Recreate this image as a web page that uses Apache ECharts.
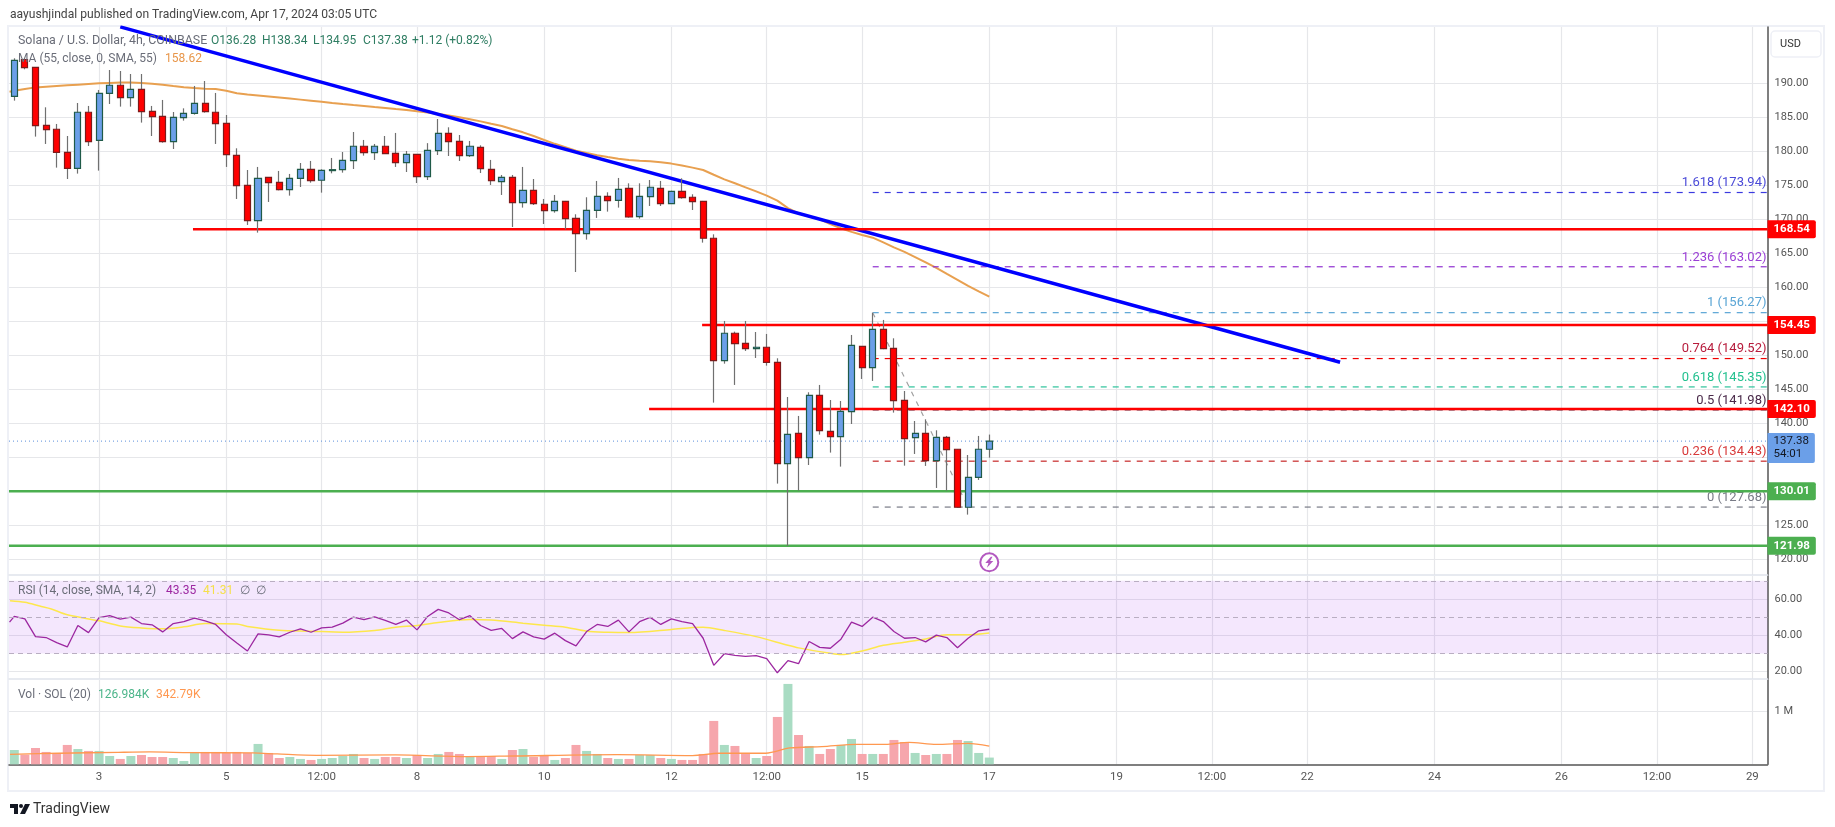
<!DOCTYPE html>
<html><head><meta charset="utf-8">
<style>html,body{margin:0;padding:0;background:#fff}#c{width:1835px;height:827px}</style>
<script src="https://cdn.jsdelivr.net/npm/echarts@6/dist/echarts.min.js"></script>
</head><body><div id="c"></div>
<script>
const FONT = 'Roboto, "Noto Sans", sans-serif';
const opens = [188.09,193.5,192.35,183.82,183.24,179.85,177.5,185.74,181.62,188.53,189.71,187.89,189.12,185.88,185.15,181.42,184.95,185.59,187.06,185.74,184.12,179.41,175,169.8,176.18,175.44,174.36,176.03,177.35,175.74,177.16,177.3,178.63,180.74,179.8,180.74,179.7,178.33,179.56,176.27,180.1,182.65,181.47,179.36,180.59,177.35,175.54,176.18,172.45,174.26,172.21,171.27,172.65,170.15,167.89,171.32,173.38,172.79,174.56,170.39,173.33,174.56,172.3,174.12,173.24,172.65,167.21,149.22,153.24,151.76,150.98,151.18,148.97,134.07,138.53,134.95,144.12,138.82,138.04,141.72,151.32,148.19,153.82,151.03,143.38,137.89,138.53,134.51,137.94,136.18,127.65,132.06,136.18];
const closes = [193.38,192.3,183.77,183.19,179.85,177.5,185.74,181.42,188.53,189.71,187.89,189.12,185.83,185.1,181.42,185,185.59,187.06,185.83,184.07,179.51,174.95,169.8,176.03,175.39,174.36,176.03,177.35,175.69,177.2,177.3,178.68,180.74,179.8,180.74,179.66,178.33,179.56,176.27,180.15,182.65,181.42,179.36,180.74,177.45,175.69,176.18,172.45,174.26,172.3,171.27,172.65,170.1,167.89,171.32,173.38,172.75,174.41,170.34,173.38,174.71,172.3,174.12,173.19,172.6,167.21,149.22,153.24,151.72,150.98,151.18,148.97,134.07,138.38,134.95,144.12,138.92,138.04,141.76,151.47,148.19,153.82,150.98,143.33,137.75,138.53,134.51,137.94,136.13,127.65,132.06,136.18,137.38];
const lows = [187.45,192.06,182.16,181.08,177.6,175.93,176.72,180.78,177.16,186.96,186.57,186.57,184.22,182.25,181.27,180.34,184.51,185.39,185.69,181.08,177.7,172.99,169.17,168.04,172.55,174.26,173.48,174.75,175.39,173.92,176.76,176.86,177.4,179.36,178.73,179.6,177.7,176.96,175.34,175.78,179.46,179.31,178.58,179.17,176.81,175.05,173.58,168.87,171.72,172.11,169.31,170.98,168.53,162.25,167.01,170.2,171.13,171.72,170.25,170.1,171.96,171.96,172.25,173.04,171.37,166.57,143.04,148.77,145.64,150.64,149.61,148.48,131.13,121.96,130.1,133.87,138.33,135.69,133.63,139.9,146.52,146.23,150.9,141.57,133.77,135.49,133.73,130.49,130.1,127.65,126.57,131.67,134.95];
const highs = [193.68,193.7,192.35,186.47,184.02,182.25,187.1,186.67,189.02,191.96,191.81,191.37,191.37,186.67,187.55,185.78,186.32,189.61,190.34,188.58,185.34,180.44,177.25,177.7,176.18,177.11,176.67,178.28,178.58,177.35,179.02,179.9,182.84,181.67,181.08,182.25,182.7,180.05,179.6,181.2,184.75,183.53,182.4,181.52,180.88,178.73,176.52,176.52,177.7,175.93,172.99,173.58,172.7,170.74,173.24,175.64,173.97,176.08,175.29,175.29,175.78,175.64,174.2,176.03,173.68,172.7,167.79,155.05,153.48,155.05,153.43,153.14,149.56,143.87,141.08,144.56,145.64,143.43,143.28,152.99,151.34,156.27,155.2,152.5,144.75,140.34,140.59,138.97,138.14,136.18,135.34,138.14,138.34];
const maValues = [188.9,189.15,189.4,189.5,189.6,189.7,189.8,189.9,190,190.05,190.1,190.12,190.05,189.95,189.8,189.6,189.42,189.3,189.2,189.15,188.9,188.55,188.35,188.2,188.05,187.9,187.75,187.6,187.45,187.3,187.11,186.95,186.8,186.67,186.5,186.38,186.22,186.08,185.9,185.7,185.49,185.25,185,184.71,184.4,184.05,183.73,183.25,182.79,182.25,181.67,181.1,180.6,180.1,179.75,179.41,179.15,178.9,178.73,178.6,178.53,178.4,178.19,177.9,177.6,177.25,176.55,175.88,175.3,174.7,174.1,173.48,172.75,171.65,170.88,170.4,170,169.3,168.68,168.15,167.7,167.3,166.6,165.88,165.2,164.45,163.65,162.85,161.96,161.1,160.2,159.4,158.62];
const maBefore = [-0.45,188.77];
const rsiValues = [50.4,49.1,39.3,38.8,36,33.6,45.4,41.5,49.7,50.8,48.9,50,46.5,45.8,41.9,46.5,47.5,49.5,48,46,40.3,35.8,31.4,40.8,40.3,39.2,41.7,43.6,41.7,44.1,44.5,46.7,50,48.6,50.2,48.2,46,48.4,43,50.4,54.3,52.3,48.6,50.8,45.4,42.7,43.8,38.2,41.9,39.2,37.9,41.2,37.1,34.2,42.1,46,44.9,48.4,41.9,47.5,49.9,46,49.1,47.6,46.5,38.4,23.5,29.9,29,28.4,28.8,27.2,19.4,26.1,24.4,36.6,33.4,32.9,37.9,47.3,44.9,50,47.6,42.1,38.4,38.8,36.4,40.1,38.8,33.2,38.4,42.5,43.35];
const rsiBefore = [-0.45,47.3];
const rsiSmaPoints = [[-0.4,59.1],[1,58.2],[2.4,56.1],[3.5,54.5],[5,51.3],[8,48],[10,45.2],[12,44.1],[14,43.6],[16,44.7],[18,46.5],[21,46.2],[22,44.9],[25,42.8],[28,42.3],[31,41.7],[34,42.7],[36,44.5],[38,45.4],[40,47.1],[43,48.7],[45,48.4],[48,46.7],[50,45.6],[52,44.5],[54,42.3],[56,41.7],[58,41.5],[62,43.2],[64,44.3],[65,44.5],[67,42.7],[70,39.3],[73,34.5],[74,33.1],[77,30.1],[78,29.4],[80,31.4],[82,34.5],[84,36.2],[86,38],[88,40.3],[90,40.3],[92,41.31]];
const volumes = [.27,.182,.308,.233,.214,.365,.289,.252,.252,.157,.101,.157,.176,.138,.138,.119,.063,.233,.233,.233,.214,.233,.214,.384,.214,.119,.138,.101,.082,.101,.119,.157,.195,.119,.101,.138,.138,.119,.176,.119,.195,.233,.195,.138,.157,.157,.101,.27,.289,.138,.176,.082,.119,.365,.252,.195,.119,.101,.101,.176,.176,.119,.101,.082,.082,.195,.818,.365,.346,.214,.119,.157,.893,1.516,.553,.346,.195,.289,.365,.478,.195,.195,.195,.459,.421,.214,.176,.195,.195,.459,.44,.214,.127];
const volMaPoints = [[-0.4,.189],[4.2,.208],[9.8,.226],[12.8,.233],[16.6,.22],[22.5,.214],[24.8,.195],[28.5,.17],[36,.176],[42.7,.145],[47.2,.157],[56.9,.182],[64,.164],[66.5,.208],[70.9,.208],[73.2,.308],[76.2,.333],[79.5,.377],[82.2,.377],[84.4,.415],[87,.377],[90,.396],[92,.343]];
const timeTicks = [[8,'3'],[20,'5'],[29,'12:00'],[38,'8'],[50,'10'],[62,'12'],[71,'12:00'],[80,'15'],[92,'17'],[104,'19'],[113,'12:00'],[122,'22'],[134,'24'],[146,'26'],[155,'12:00'],[164,'29']];
const priceTicks = [120,125,130,135,140,145,150,155,160,165,170,175,180,185,190];
const rsiTicks = [20,40,60];
const rsiBands = [70,50,30];
const volTicks = [1];
const redLevels = [[16.86,168.54],[64.9,154.45],[59.9,142.10]];
const greenLevels = [[-0.5,130.01],[-0.5,121.98]];
const fibLevels = [['1.618',173.94,'#3a3ae0','#4a4ad8'],['1.236',163.02,'#9030d0','#9a3fd5'],['1',156.27,'#5aa5d5','#5aa5d5'],['0.764',149.52,'#f00000','#b71c3c'],['0.618',145.35,'#2cc29a','#22c08f'],['0.5',141.98,'#301030','#4a2a4a'],['0.236',134.43,'#c62828','#d83a3a'],['0',127.68,'#787b86','#787b86']];
const trendLine = [[10,198.3],[125.1,148.97]];
const fibTrend = [[81,156.27],[90,127.68]];
const lastPrice = 137.38, lastCountdown = '54:01';
const alertPoint = [92,119.56];

const XMIN=-0.5, XMAX=165.43;
const UPC='#6b9fe8', DNC='#ff0000', UPB='#1f5a48', DNB='#7d1a1a', WICK='#707070';
const GRID='#e6e7ea', AX='#555';

function xAxis(i, showLab){
  return {type:'value',gridIndex:i,min:XMIN,max:XMAX,
    axisLine:{show:true,onZero:false,lineStyle:{color:i===2?AX:'#e0e3eb',width:1.5}},
    axisTick:{show:false,customValues:timeTicks.map(t=>t[0])},
    splitLine:{show:true,lineStyle:{color:GRID,width:1.2}},
    axisLabel:{show:showLab,customValues:timeTicks.map(t=>t[0]),margin:7,fontFamily:FONT,fontSize:11.5,color:'#555',
      formatter:v=>{const t=timeTicks.find(t=>t[0]===v);return t?t[1]:''}}};
}
function yAxis(i,min,max,ticks,fmt){
  return {type:'value',gridIndex:i,position:'right',min,max,
    axisLine:{show:true,onZero:false,lineStyle:{color:AX,width:1.5}},
    axisTick:{show:false,customValues:ticks},
    splitLine:{show:true,lineStyle:{color:GRID,width:1.2}},
    axisLabel:{customValues:ticks,margin:7,fontFamily:FONT,fontSize:11,color:'#555',formatter:fmt}};
}
const f2=v=>v.toFixed(2);
function hline(name,start,price,color,z){
  return {type:'line',name,xAxisIndex:0,yAxisIndex:0,data:[[start,price],[XMAX,price]],showSymbol:false,symbol:'none',
    lineStyle:{color,width:2.5},z,silent:true,
    endLabel:{show:true,distance:0,formatter:f2(price),backgroundColor:color,color:'#fff',fontFamily:FONT,fontWeight:'bold',fontSize:11.5,
      padding:[3,6,3,6],borderRadius:[0,2,2,0]}};
}
const series=[];
// MA
series.push({type:'line',name:'MA',xAxisIndex:0,yAxisIndex:0,data:[maBefore].concat(maValues.map((v,i)=>[i,v])),showSymbol:false,symbol:'none',lineStyle:{color:'#e8a050',width:2},z:2});
// fib
fibLevels.forEach(f=>series.push({type:'line',name:'fib'+f[0],xAxisIndex:0,yAxisIndex:0,data:[[81,f[1]],[XMAX,f[1]]],showSymbol:false,symbol:'none',
  lineStyle:{color:f[2],width:1.2,type:[6,6]},z:2,
  endLabel:{show:true,align:'right',verticalAlign:'bottom',offset:[-9,-3],formatter:f[0]+' ('+f2(f[1])+')',color:f[3],fontFamily:FONT,fontSize:13}}));
series.push({type:'line',name:'fibTrend',xAxisIndex:0,yAxisIndex:0,data:fibTrend,showSymbol:false,symbol:'none',lineStyle:{color:'#a0a0a0',width:1.2,type:[5,6]},z:2});
// last price
series.push({type:'line',name:'last',xAxisIndex:0,yAxisIndex:0,data:[[XMIN,lastPrice],[XMAX,lastPrice]],showSymbol:false,symbol:'none',
  lineStyle:{color:'#5b8fdc',width:1,type:[1,3]},z:2,
  endLabel:{show:true,distance:0,verticalAlign:'top',offset:[0,-8],formatter:f2(lastPrice)+'\n'+lastCountdown,backgroundColor:UPC,color:'#131722',fontFamily:FONT,fontSize:11.5,lineHeight:13,padding:[2,6,2,6],borderRadius:[0,2,2,0]}});
// trend
series.push({type:'line',name:'trend',xAxisIndex:0,yAxisIndex:0,data:trendLine,showSymbol:false,symbol:'none',lineStyle:{color:'#0000ff',width:3.5},z:3});
redLevels.forEach(l=>series.push(hline('res',l[0],l[1],'#ff0000',4)));
greenLevels.forEach(l=>series.push(hline('sup',l[0],l[1],'#4caf50',4)));
// candle wicks then bodies
series.push({type:'candlestick',name:'wicks',xAxisIndex:0,yAxisIndex:0,barWidth:1,encode:{x:0,y:[1,2,3,4]},
  data:opens.map((o,i)=>[i,o,closes[i],lows[i],highs[i]]),
  itemStyle:{color:WICK,color0:WICK,borderColor:WICK,borderColor0:WICK,borderWidth:1.2},z:5});
series.push({type:'candlestick',name:'bodies',xAxisIndex:0,yAxisIndex:0,barWidth:6.6,encode:{x:0,y:[1,2,3,4]},
  data:opens.map((o,i)=>[i,o,closes[i],Math.min(o,closes[i]),Math.max(o,closes[i])]),
  itemStyle:{color:UPC,color0:DNC,borderColor:UPB,borderColor0:DNB,borderWidth:1.2},z:6});
// alert icon
series.push({type:'scatter',xAxisIndex:0,yAxisIndex:0,data:[alertPoint],symbol:'circle',symbolSize:18,itemStyle:{color:'#fff',borderColor:'#a030b0',borderWidth:2},z:7,silent:true});
series.push({type:'scatter',xAxisIndex:0,yAxisIndex:0,data:[alertPoint],symbol:'path://M7 0L0 9H4L2 16L10 6H6L9 0Z',symbolSize:[8,11],itemStyle:{color:'#a030b0'},z:8,silent:true});
// RSI
series.push({type:'line',name:'RSI',xAxisIndex:1,yAxisIndex:1,data:[rsiBefore].concat(rsiValues.map((v,i)=>[i,v])),showSymbol:false,symbol:'none',lineStyle:{color:'#9c27a0',width:1.3},z:4,
  markArea:{silent:true,itemStyle:{color:'rgba(156,39,240,0.11)'},data:[[{yAxis:rsiBands[2],xAxis:XMIN},{yAxis:rsiBands[0],xAxis:XMAX}]]},
  markLine:{silent:true,symbol:'none',label:{show:false},lineStyle:{color:'#b9aec2',type:[5,4],width:1},data:rsiBands.map(b=>({yAxis:b}))}});
series.push({type:'line',name:'RSI SMA',xAxisIndex:1,yAxisIndex:1,data:rsiSmaPoints,showSymbol:false,symbol:'none',smooth:0.3,lineStyle:{color:'#fde74c',width:1.5},z:3});
// Volume
series.push({type:'bar',name:'Vol',xAxisIndex:2,yAxisIndex:2,barWidth:9,
  data:volumes.map((v,i)=>({value:[i,v],itemStyle:{color:closes[i]>=opens[i]?'#a9dcc3':'#f6a6ac'}})),z:3});
series.push({type:'line',name:'VolMA',xAxisIndex:2,yAxisIndex:2,data:volMaPoints,showSymbol:false,symbol:'none',smooth:0.3,lineStyle:{color:'#ff9850',width:1.3},z:4});

const gText=(x,y,text,fill,size)=>({type:'text',x,y,z:50,style:{text,fill,font:(size||12)+'px '+FONT,verticalAlign:'middle',align:'left'},silent:true});
const LG='#6a6d78', OHLC='#2e7d62';
const graphic=[
 {type:'rect',shape:{x:8,y:26,width:1816,height:765},style:{fill:'none',stroke:'#eef0f6',lineWidth:2},z:-1,silent:true},
 {type:'rect',shape:{x:1771,y:31,width:50,height:26,r:4},style:{fill:'#fff',stroke:'#eef0f6',lineWidth:1.5},z:40,silent:true},
 gText(1780,44,'USD','#333',11),
 gText(10,15,'aayushjindal published on TradingView.com, Apr 17, 2024 03:05 UTC','#444',12.1),
 gText(18,41,'Solana / U.S. Dollar, 4h, COINBASE',LG,12.4),
 gText(211,41,'O136.28',OHLC,12),gText(262,41,'H138.34',OHLC,12),gText(313,41,'L134.95',OHLC,12),gText(363,41,'C137.38',OHLC,12),gText(412,41,'+1.12 (+0.82%)',OHLC,12),
 gText(18,59,'MA (55, close, 0, SMA, 55)',LG,12),gText(165,59,'158.62','#e8964a',12),
 gText(18,591,'RSI (14, close, SMA, 14, 2)',LG,12),gText(166,591,'43.35','#9c27a0',12),gText(203,591,'41.31','#f5e04a',12),gText(240,591,'∅',LG,12),gText(256,591,'∅',LG,12),
 gText(18,695,'Vol · SOL (20)',LG,12),gText(98,695,'126.984K','#4cb58a',12),gText(156,695,'342.79K','#ff9850',12),
 {type:'group',x:10,y:804,silent:true,children:[
   {type:'polygon',shape:{points:[[0,0],[8,0],[8,10],[4,10],[4,4],[0,4]]},style:{fill:'#131722'}},
   {type:'circle',shape:{cx:11,cy:2,r:2},style:{fill:'#131722'}},
   {type:'polygon',shape:{points:[[15,0],[20,0],[15,10],[10,10]]},style:{fill:'#131722'}}]},
 gText(33,809,'TradingView','#333',14)
];
const chart=echarts.init(document.getElementById('c'),null,{renderer:'canvas'});
chart.setOption({animation:false,backgroundColor:'#fff',
  grid:[{left:9,right:67.5,top:27,height:548},{left:9,right:67.5,top:576,height:103},{left:9,right:67.5,top:680,height:84.3}],
  xAxis:[xAxis(0,false),xAxis(1,false),xAxis(2,true)],
  yAxis:[yAxis(0,117.69,198.28,priceTicks,f2),yAxis(1,15.98,72.65,rsiTicks,f2),yAxis(2,0,1.59,volTicks,()=>'1 M')],
  series,graphic});
</script></body></html>
